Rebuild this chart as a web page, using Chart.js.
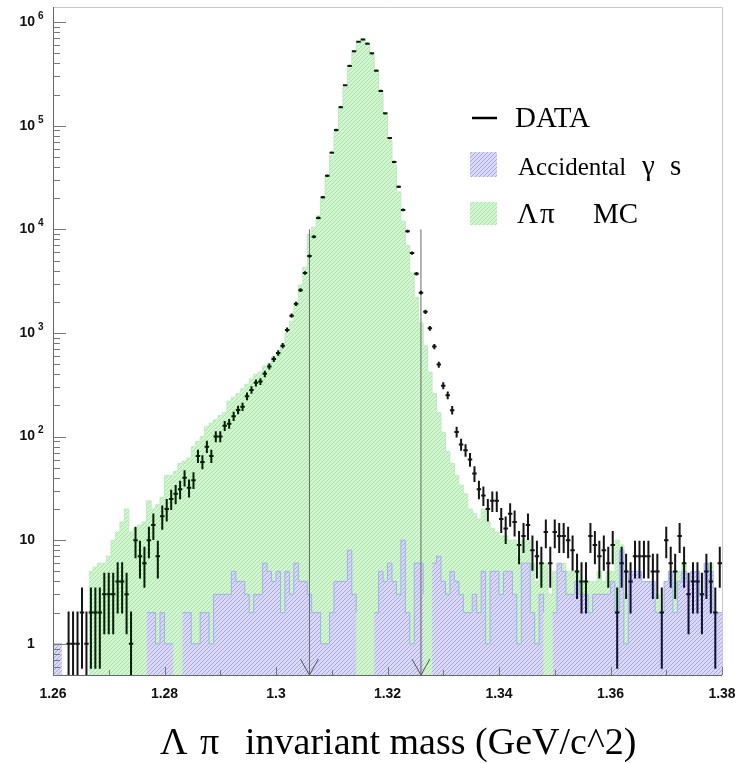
<!DOCTYPE html>
<html>
<head>
<meta charset="utf-8">
<script src="https://cdn.jsdelivr.net/npm/chart.js@4.4.1/dist/chart.umd.min.js"></script>
<style>
  html, body { margin: 0; padding: 0; background: #fff; }
</style>
</head>
<body>
<canvas id="myChart" width="745" height="763"></canvas>
<script>
// histogram binning: 150 bins from 1.26 to 1.38
const xMin = 1.26
const xMax = 1.38
const binWidth = 0.0008

// DATA counts per bin
const dataCounts = [
  0, 0, 0, 1, 1, 1, 2, 1, 2, 2,
  2, 3, 3, 3, 4, 4, 3, 1, 10, 7,
  6, 10, 14, 7, 17, 20, 25, 28, 31, 40,
  32, 38, 65, 57, 80, 65, 100, 100, 127, 133,
  157, 181, 194, 245, 282, 330, 340, 403, 475, 560,
  640, 754, 1070, 1470, 1910, 2590, 3800, 5530, 8470, 12900,
  20400, 33000, 55000, 91000, 151000, 246000, 378000, 524000, 646000, 680000,
  620000, 500000, 340000, 217000, 132000, 76000, 44600, 25800, 15400, 9600,
  5900, 3730, 2450, 1600, 1110, 740, 495, 310, 250, 180,
  111, 84, 74, 60, 44, 31, 27, 20, 24, 24,
  16, 13, 18, 15, 9, 11, 14, 8, 7, 6,
  12, 6, 12, 11, 11, 10, 8, 5, 4, 4,
  11, 9, 7, 8, 6, 9, 2, 6, 5, 4,
  7, 7, 7, 7, 5, 5, 2, 10, 6, 5,
  11, 6, 3, 4, 4, 3, 5, 4, 2, 6
]

// Lambda pi MC
const mcCounts = [
  0, 0, 0, 0, 0, 0, 0, 0, 5, 5.5,
  6, 6, 7, 10, 12, 15, 20, 12, 13, 14,
  15, 24, 20, 22, 26, 42, 42, 46, 55, 58,
  62, 80, 90, 100, 125, 135, 145, 160, 170, 220,
  240, 260, 290, 320, 360, 400, 420, 480, 510, 590,
  650, 760, 1000, 1300, 1900, 2900, 4300, 9000, 10500, 13500,
  20000, 33000, 52000, 88000, 145000, 235000, 360000, 510000, 640000, 690000,
  620000, 490000, 340000, 215000, 130000, 72000, 42000, 23000, 12000, 7000,
  3800, 2200, 1250, 750, 420, 260, 170, 110, 72, 55,
  42, 34, 28, 20, 18, 16, 20, 15, 13, 12,
  11, 11, 10, 10, 7, 10, 10, 6, 4, 6,
  6, 3, 5, 5, 6, 5, 5, 5, 4, 4,
  4, 4, 5, 4, 5, 5, 10, 9, 3, 5,
  4, 4, 4, 4, 3, 3, 2, 3, 5, 4,
  5, 6, 4, 4, 4, 3, 5, 6, 2, 2
]

// accidental gammas
const accCounts = [
  1, 1, 1, 0, 0, 0, 0, 0, 1, 0,
  0, 0, 0, 0, 1, 0, 1, 0, 0, 2,
  0, 2, 2, 1, 2, 1, 1, 1, 0, 2,
  2, 1, 1, 2, 2, 1, 3, 3, 3, 3,
  5, 4, 4, 3, 2, 3, 3, 6, 5, 4,
  5, 2, 5, 3, 6, 4, 4, 3, 2, 2,
  1, 1, 2, 4, 4, 4, 8, 3, 2, 0,
  2, 0, 2, 5, 4, 6, 4, 3, 10, 2,
  1, 6, 6, 3, 0, 6, 7, 4, 3, 5,
  4, 3, 2, 2, 3, 2, 5, 1, 5, 5,
  3, 5, 5, 3, 1, 6, 6, 2, 1, 3,
  2, 0, 2, 6, 5, 3, 3, 4, 3, 3,
  2, 3, 3, 3, 3, 4, 2, 8, 1, 5,
  5, 5, 4, 4, 4, 2, 2, 4, 5, 2,
  4, 5, 4, 5, 5, 3, 6, 5, 2, 2
]

// selection cuts
const cutPositions = [1.306, 1.326]
const cutHeight = 1e4

const yMin = 0.5
const yMax = 1.4e6
const yDecades = [0, 1, 2, 3, 4, 5, 6]

const ctx = document.querySelector("#myChart").getContext("2d")

function hatch(base, line) {
  const c = document.createElement("canvas")
  c.width = 4
  c.height = 4
  const g = c.getContext("2d")
  g.fillStyle = base
  g.fillRect(0, 0, 4, 4)
  g.fillStyle = line
  for (let i = 0; i < 4; i++) g.fillRect(i, 3 - i, 1, 1)
  return ctx.createPattern(c, "repeat")
}

const greenFill = hatch("rgb(210,246,208)", "rgb(170,224,170)")
const blueFill = hatch("rgb(218,218,248)", "rgb(168,168,222)")

// histogram points on the low bin edges, plus the closing edge
function toSteps(counts) {
  const pts = counts.map((v, i) => ({ x: xMin + i * binWidth, y: v }))
  pts.push({ x: xMax, y: counts[counts.length - 1] })
  return pts
}

const serif = "'Liberation Serif', 'Times New Roman', serif"
const sans = "'Liberation Sans', Arial, sans-serif"

const histPlugin = {
  id: "hist",
  beforeDraw(chart) {
    const c = chart.ctx
    c.save()
    c.fillStyle = "#fff"
    c.fillRect(0, 0, chart.width, chart.height)
    c.restore()
  },
  afterDatasetsDraw(chart) {
    const { ctx: c, chartArea: a, scales: { x, y } } = chart
    c.save()
    c.beginPath()
    c.rect(a.left, a.top, a.right - a.left, a.bottom - a.top)
    c.clip()
    // data drawn dark, taking the tint of the histograms below
    c.globalCompositeOperation = "luminosity"
    c.strokeStyle = "rgb(20,20,20)"
    c.lineWidth = 2
    dataCounts.forEach((n, i) => {
      if (!n) return
      const lo = xMin + i * binWidth
      const xl = x.getPixelForValue(lo)
      const xr = x.getPixelForValue(lo + binWidth)
      const xc = (xl + xr) / 2
      const err = Math.sqrt(n)
      const yc = y.getPixelForValue(n)
      const yTop = y.getPixelForValue(n + err)
      const yBot = n - err > 0 ? y.getPixelForValue(n - err) : a.bottom
      c.beginPath()
      c.moveTo(xl, yc)
      c.lineTo(xr, yc)
      c.moveTo(xc, yTop - 1)
      c.lineTo(xc, yBot + 1)
      c.stroke()
    })
    c.restore()

    // arrows at the cuts
    c.save()
    c.strokeStyle = "#555"
    c.lineWidth = 1
    cutPositions.forEach(v => {
      const px = x.getPixelForValue(v)
      c.beginPath()
      c.moveTo(px - 9, a.bottom - 16)
      c.lineTo(px, a.bottom)
      c.lineTo(px + 9, a.bottom - 16)
      c.stroke()
    })
    c.restore()
  },
  afterDraw(chart) {
    const { ctx: c, chartArea: a, scales: { x, y } } = chart
    c.save()
    c.lineWidth = 1
    // frame
    c.strokeStyle = "#c8c8c8"
    c.beginPath()
    c.moveTo(a.left, a.top + 0.5)
    c.lineTo(a.right + 0.5, a.top + 0.5)
    c.lineTo(a.right + 0.5, a.bottom)
    c.stroke()
    c.strokeStyle = "#666"
    c.beginPath()
    c.moveTo(a.left + 0.5, a.top)
    c.lineTo(a.left + 0.5, a.bottom + 0.5)
    c.lineTo(a.right, a.bottom + 0.5)
    c.stroke()

    // y ticks, drawn inward
    c.strokeStyle = "#777"
    c.beginPath()
    for (let d = -1; d <= 6; d++) {
      for (let m = 1; m <= 9; m++) {
        const v = m * Math.pow(10, d)
        if (v < yMin || v > yMax) continue
        const py = Math.round(y.getPixelForValue(v)) + 0.5
        c.moveTo(a.left, py)
        c.lineTo(a.left + (m === 1 ? 13 : 7), py)
      }
    }
    // x ticks
    for (let k = 0; k <= 12; k++) {
      const px = Math.round(x.getPixelForValue(xMin + k * 0.01)) + 0.5
      c.moveTo(px, a.bottom)
      c.lineTo(px, a.bottom - (k % 2 === 0 ? 8 : 5))
    }
    c.stroke()

    // y labels
    c.fillStyle = "#111"
    c.textBaseline = "middle"
    yDecades.forEach(d => {
      const py = y.getPixelForValue(Math.pow(10, d))
      c.font = "bold 14px " + sans
      if (d === 0) {
        c.textAlign = "center"
        c.fillText("1", 31, py)
      } else {
        c.textAlign = "right"
        c.fillText("10", 35, py)
        if (d > 1) {
          c.font = "bold 10px " + sans
          c.textAlign = "left"
          c.fillText(String(d), 38, py - 6)
        }
      }
    })

    // axis title
    c.fillStyle = "#000"
    c.textAlign = "left"
    c.textBaseline = "alphabetic"
    c.font = "38px " + serif
    c.fillText("Λ", 160, 754)
    c.fillText("π", 200, 754)
    c.fillText("invariant mass (GeV/c^2)", 245, 754)

    // legend
    c.strokeStyle = "#000"
    c.lineWidth = 2.5
    c.beginPath()
    c.moveTo(472, 118)
    c.lineTo(497, 118)
    c.stroke()
    c.font = "29px " + serif
    c.fillText("DATA", 515, 127)
    c.fillStyle = blueFill
    c.fillRect(470, 152, 27, 25)
    c.fillStyle = greenFill
    c.fillRect(470, 202, 27, 23)
    c.fillStyle = "#000"
    c.font = "25px " + serif
    c.fillText("Accidental", 518, 175)
    c.font = "29px " + serif
    c.fillText("γ", 642, 175)
    c.fillText("s", 670, 175)
    c.fillText("Λ", 517, 223)
    c.fillText("π", 540, 223)
    c.fillText("MC", 593, 223)
    c.restore()
  }
}

new Chart(ctx, {
  type: "line",
  data: {
    datasets: [
      ...cutPositions.map(v => ({
        label: "cut",
        data: [{ x: v, y: yMin }, { x: v, y: cutHeight }],
        borderColor: "#6a6a6a",
        borderWidth: 1,
        pointRadius: 0,
        fill: false,
        order: 1
      })),
      {
        label: "Accidental γs",
        data: toSteps(accCounts),
        stepped: true,
        fill: "start",
        backgroundColor: blueFill,
        borderColor: "rgb(160,178,232)",
        borderWidth: 1,
        pointRadius: 0,
        order: 2
      },
      {
        label: "Λπ MC",
        data: toSteps(mcCounts),
        stepped: true,
        fill: "start",
        backgroundColor: greenFill,
        borderColor: "rgb(190,236,190)",
        borderWidth: 1,
        pointRadius: 0,
        order: 3
      }
    ]
  },
  options: {
    responsive: false,
    animation: false,
    layout: { padding: { left: 0, right: 23, top: 7, bottom: 0 } },
    plugins: {
      legend: { display: false },
      tooltip: { enabled: false }
    },
    scales: {
      x: {
        type: "linear",
        min: xMin,
        max: xMax,
        grid: { display: false },
        border: { display: false },
        afterFit: s => { s.height = 88 },
        ticks: {
          stepSize: 0.02,
          autoSkip: false,
          maxRotation: 0,
          padding: 3,
          color: "#111",
          font: { family: "Liberation Sans", size: 14, weight: "bold" },
          callback: v => String(+Number(v).toFixed(2))
        }
      },
      y: {
        type: "logarithmic",
        min: yMin,
        max: yMax,
        grid: { display: false },
        border: { display: false },
        ticks: { display: false },
        afterFit: s => { s.width = 53 }
      }
    }
  },
  plugins: [histPlugin]
})
</script>
</body>
</html>
